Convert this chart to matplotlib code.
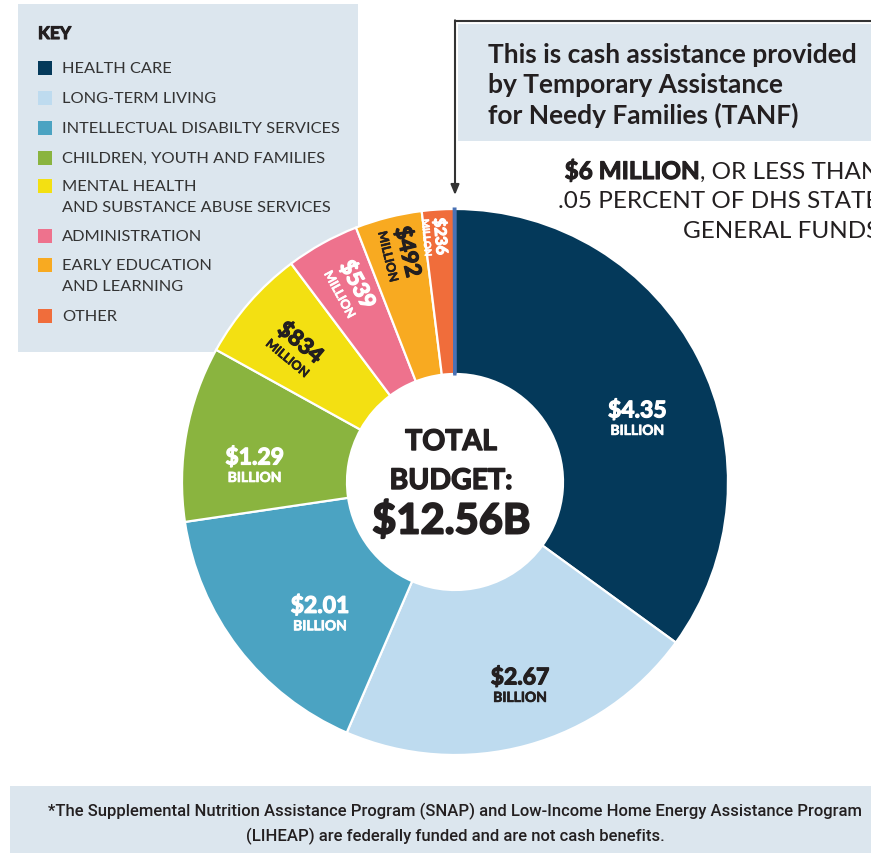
import numpy as np
import matplotlib
matplotlib.use("Agg")
import matplotlib.pyplot as plt
from matplotlib.patches import Rectangle
import matplotlib.patheffects as pe

# ---------------- data ----------------
categories = ["HEALTH CARE", "LONG-TERM LIVING", "INTELLECTUAL DISABILTY SERVICES",
              "CHILDREN, YOUTH AND FAMILIES", "MENTAL HEALTH\nAND SUBSTANCE ABUSE SERVICES",
              "ADMINISTRATION", "EARLY EDUCATION\nAND LEARNING", "OTHER", "TANF"]
values_billion = [4.35, 2.67, 2.01, 1.29, 0.834, 0.539, 0.492, 0.236, 0.006]
value_labels = ["$4.35", "$2.67", "$2.01", "$1.29", "$834", "$539", "$492", "$236", ""]
unit_labels = ["BILLION", "BILLION", "BILLION", "BILLION", "MILLION", "MILLION", "MILLION", "MILLON", ""]
colors = ["#04395A", "#BEDBEF", "#4BA3C2", "#8AB43F", "#F3E012", "#EE728D", "#F8AA21", "#F06D3B", "#4A72B5"]
label_colors = ["white", "#231F20", "white", "white", "#231F20", "white", "#231F20", "white", "white"]
legend_count = 8
total_text = "$12.56B"

# ---------------- figure ----------------
W, H = 871, 854
fig = plt.figure(figsize=(W / 100, H / 100), dpi=100)
ax = fig.add_axes([0, 0, 1, 1])
plt.rcParams['font.family'] = ['Lato', 'DejaVu Sans']

def Y(y):
    return H - y

def heavy(col, lw=0.9):
    return [pe.withStroke(linewidth=lw, foreground=col)]

BG = "#DCE6EE"
DARK = "#231F20"

cx, cy, R, r_in = 455, Y(483), 273, 108

wedges, _ = ax.pie(values_billion, colors=colors, startangle=90, counterclock=False,
                   radius=R, center=(cx, cy),
                   wedgeprops=dict(width=R - r_in, edgecolor="white", linewidth=1.6))
# keep the tiny TANF slice visible
wedges[-1].set_edgecolor(colors[-1])
wedges[-1].set_linewidth(2.2)
wedges[-1].set_zorder(3)

ax.set_xlim(0, W)
ax.set_ylim(0, H)
ax.set_aspect("auto")
ax.axis("off")

# ---- slice labels ----
# layout: (radius, angle offset deg, rotated?, value size, unit size)
layout = [
    (193, -7.9, False, 16.5, 10),
    (214, 2.4, False, 16.5, 10),
    (189, 6.9, False, 16.5, 10),
    (201, 5.7, False, 16.5, 10),
    (208, 1.3, True, 16, 9),
    (220, -0.6, True, 16, 9),
    (235, -0.5, True, 16, 9),
    (246, 1.1, True, 11.5, 7),
]
for i, (rad, doff, rot, vs, us) in enumerate(layout):
    w = wedges[i]
    mid = (w.theta1 + w.theta2) / 2 + doff
    t = np.deg2rad(mid)
    ax_, ay_ = cx + rad * np.cos(t), cy + rad * np.sin(t)
    col = label_colors[i]
    if not rot:
        ax.text(ax_, ay_ + 8, value_labels[i], ha="center", va="center", fontsize=vs,
                fontweight="bold", color=col, path_effects=heavy(col))
        ax.text(ax_, ay_ - 12, unit_labels[i], ha="center", va="center", fontsize=us,
                fontweight="bold", color=col, path_effects=heavy(col, 0.5))
    else:
        rotation = mid - 180
        d = np.array([np.cos(np.deg2rad(rotation)), np.sin(np.deg2rad(rotation))])
        n = np.array([d[1], -d[0]])
        sp = 8 if vs > 12 else 5
        p1 = np.array([ax_, ay_]) - sp * n
        p2 = np.array([ax_, ay_]) + (sp + 4) * n
        ax.text(p1[0], p1[1], value_labels[i], ha="center", va="center", fontsize=vs,
                fontweight="bold", color=col, rotation=rotation, rotation_mode="anchor",
                path_effects=heavy(col))
        ax.text(p2[0], p2[1], unit_labels[i], ha="center", va="center", fontsize=us,
                fontweight="bold", color=col, rotation=rotation, rotation_mode="anchor",
                path_effects=heavy(col, 0.4))

# ---- centre text ----
tx = 451
ax.text(tx, Y(443), "TOTAL", ha="center", va="center", fontsize=20.5, fontweight="bold",
        color=DARK, path_effects=heavy(DARK, 1.0))
ax.text(tx, Y(482), "BUDGET:", ha="center", va="center", fontsize=20.5, fontweight="bold",
        color=DARK, path_effects=heavy(DARK, 1.0))
ax.text(tx, Y(522), total_text, ha="center", va="center", fontsize=30, fontweight="bold",
        color=DARK, path_effects=heavy(DARK, 1.4))

# ---- key box ----
ax.add_patch(Rectangle((18, Y(353)), 340, 348, facecolor=BG, edgecolor="none", zorder=0))
ax.text(38, Y(35), "KEY", ha="left", va="center", fontsize=12.5, fontweight="bold", color=DARK,
        path_effects=heavy(DARK, 0.8))
key_y = [69, 99, 129, 159, 187, 237, 266, 317]
for i in range(legend_count):
    y0 = key_y[i]
    ax.add_patch(Rectangle((38, Y(y0) - 7), 14, 14, facecolor=colors[i], edgecolor="none"))
    lines = categories[i].split("\n")
    for j, ln in enumerate(lines):
        ax.text(62, Y(y0 + 21 * j), ln, ha="left", va="center", fontsize=11.8,
                color="#333333")

# ---- callout ----
ax.add_patch(Rectangle((458, Y(142)), W - 458, 117, facecolor=BG, edgecolor="none", zorder=0))
ax.plot([455, W], [Y(22), Y(22)], color="#333333", lw=1.5, solid_capstyle="butt")
ax.annotate("", xy=(455, Y(196)), xytext=(455, Y(21.3)),
            arrowprops=dict(arrowstyle="-|>,head_length=0.6,head_width=0.25",
                            color="#333333", lw=1.5, shrinkA=0, shrinkB=0))
for j, ln in enumerate(["This is cash assistance provided", "by Temporary Assistance",
                        "for Needy Families (TANF)"]):
    ax.text(488, Y(55 + 30 * j), ln, ha="left", va="center", fontsize=19,
            fontweight="bold", color=DARK)

xr = 879
fig.canvas.draw()
rend = fig.canvas.get_renderer()
t_reg = ax.text(xr, Y(172), ", OR LESS THAN", ha="right", va="center", fontsize=17.5, color=DARK)
bb = t_reg.get_window_extent(rend)
ax.text(bb.x0, Y(172), "$6 MILLION", ha="right", va="center", fontsize=17.5,
        fontweight="bold", color=DARK, path_effects=heavy(DARK, 0.8))
ax.text(xr, Y(201), ".05 PERCENT OF DHS STATE", ha="right", va="center", fontsize=17.5, color=DARK)
ax.text(xr, Y(231), "GENERAL FUNDS", ha="right", va="center", fontsize=17.5, color=DARK)

# ---- footer ----
ax.add_patch(Rectangle((10, 0), W - 10, Y(787), facecolor=BG, edgecolor="none", zorder=0))
ax.text(455, Y(811), "*The Supplemental Nutrition Assistance Program (SNAP) and Low-Income Home Energy Assistance Program",
        ha="center", va="center", fontsize=12, fontweight="medium", color=DARK,
        family=["Roboto", "DejaVu Sans"])
ax.text(455, Y(836), "(LIHEAP) are federally funded and are not cash benefits.",
        ha="center", va="center", fontsize=12, fontweight="medium", color=DARK,
        family=["Roboto", "DejaVu Sans"])

fig.savefig("out.png", dpi=100, facecolor="white")
